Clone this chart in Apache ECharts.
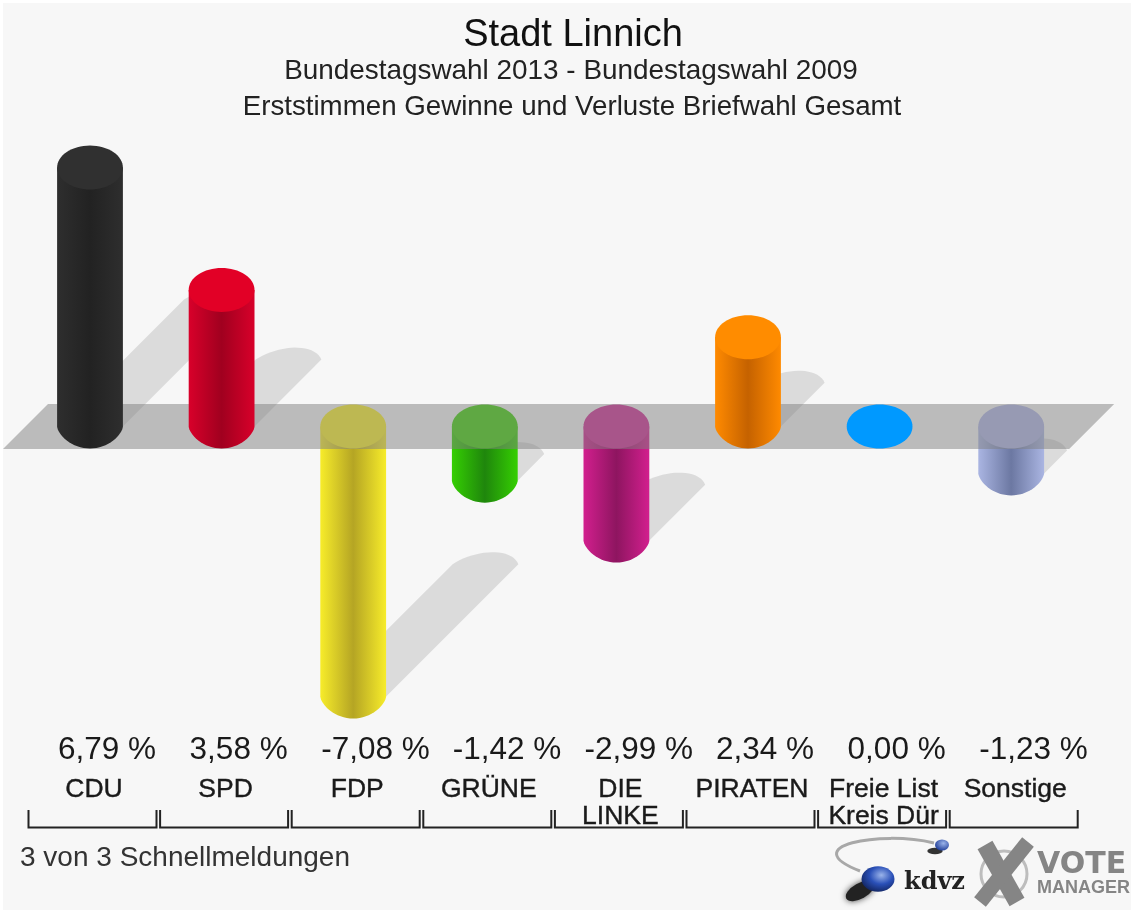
<!DOCTYPE html>
<html lang="de">
<head>
    <meta charset="UTF-8"/>
    <title>Stadt Linnich</title>
    <style>
        * {
            padding: 0;
            margin: 0;
        }

        html, body {
            width: 100%;
            height: 100%;
            overflow: hidden;
            background: #fff;
        }

        #chart {
            width: 1131px;
            height: 910px;
        }
    </style>
    <script src="https://cdn.jsdelivr.net/npm/echarts@6/dist/echarts.min.js"></script>
</head>
<body>
<div id="chart"></div>
<script>
    const parties = ["CDU", "SPD", "FDP", "GRÜNE", "DIE\nLINKE", "PIRATEN", "Freie List\nKreis Dür", "Sonstige"];
    const changes = [6.79, 3.58, -7.08, -1.42, -2.99, 2.34, 0.00, -1.23];
    const sideLight = ["#2e2e2e", "#d8002a", "#f7ec2a", "#35cf02", "#d21f8e", "#ff8a00", "#0099ff", "#aab5e2"];
    const sideDark = ["#222222", "#a0001f", "#b5a524", "#1f860c", "#8e1560", "#c56200", "#0099ff", "#6c78a2"];
    const capColor = ["#303030", "#e20026", "#fbf024", "#3ed006", "#d02a94", "#ff8c00", "#0099ff", "#aeb4e6"];

    const FONT = "Liberation Sans";
    const CAP_RY = 22;

    const chart = echarts.init(document.getElementById("chart"));

    function ellipsePoints(cx, cy, rx, ry) {
        const pts = [];
        for (let i = 0; i < 64; i++) {
            const t = Math.PI * 2 * i / 64;
            pts.push([cx + rx * Math.cos(t), cy + ry * Math.sin(t)]);
        }
        return pts;
    }

    // bottom end of a bar, a little more pointed than a true ellipse
    function bottomPoints(cx, cy, rx, ry) {
        const pts = [];
        for (let i = 0; i <= 32; i++) {
            const t = Math.PI * i / 32;
            pts.push([cx - rx * Math.cos(t), cy + ry * Math.pow(Math.sin(t), 1.3)]);
        }
        return pts;
    }

    function bezierPoints(p0, p1, p2, p3) {
        const pts = [];
        for (let i = 0; i <= 20; i++) {
            const t = i / 20, u = 1 - t;
            pts.push([
                u * u * u * p0[0] + 3 * u * u * t * p1[0] + 3 * u * t * t * p2[0] + t * t * t * p3[0],
                u * u * u * p0[1] + 3 * u * u * t * p1[1] + 3 * u * t * t * p2[1] + t * t * t * p3[1]
            ]);
        }
        return pts;
    }

    function renderBars(negative) {
        return function (params, api) {
            const v = api.value(1);
            if ((v < 0) !== negative) return null;
            const i = api.value(0);
            const rx = api.size([1, 0])[0] * 0.25;
            const zero = api.coord([i, 0]);
            const end = api.coord([i, v]);
            const top = Math.min(zero[1], end[1]);
            const bottom = Math.max(zero[1], end[1]);
            const cx = zero[0];
            const children = [];
            if (v !== 0) {
                children.push({
                    type: "polygon",
                    shape: {points: [[cx - rx, top]].concat(bottomPoints(cx, bottom, rx, CAP_RY)).concat([[cx + rx, top]])},
                    style: {
                        fill: {
                            type: "linear", x: 0, y: 0, x2: 1, y2: 0,
                            colorStops: [
                                {offset: 0, color: sideLight[i]},
                                {offset: 0.5, color: sideDark[i]},
                                {offset: 1, color: sideLight[i]}
                            ]
                        }
                    }
                });
            }
            children.push({
                type: "polygon",
                shape: {points: ellipsePoints(cx, top, rx, CAP_RY)},
                style: {fill: capColor[i]}
            });
            return {type: "group", children: children};
        };
    }

    function renderShadow(params, api) {
        const v = api.value(1);
        if (v === 0) return null;
        const i = api.value(0);
        const rx = api.size([1, 0])[0] * 0.25;
        const zero = api.coord([i, 0]);
        const end = api.coord([i, v]);
        const h = Math.abs(end[1] - zero[1]);
        const startY = Math.max(zero[1], end[1]);
        const ex = zero[0] + h * 0.49;
        const ey = startY - h * 0.49;
        const cap = bezierPoints([ex - rx, ey], [ex - 10, ey - 15], [ex + 26, ey - 17], [ex + rx, ey]);
        return {
            type: "polygon",
            shape: {points: [[zero[0] - rx, startY]].concat(cap).concat([[zero[0] + rx, startY]])},
            style: {fill: "rgba(0,0,0,0.11)"}
        };
    }

    function renderBand(params, api) {
        if (api.value(0) !== 0) return null;
        const first = api.coord([0, 0]);
        const last = api.coord([parties.length - 1, 0]);
        return {
            type: "polygon",
            shape: {
                points: [
                    [first[0] - 87, first[1] + 22.5],
                    [first[0] - 42, first[1] - 22.5],
                    [last[0] + 103, first[1] - 22.5],
                    [last[0] + 58, first[1] + 22.5]
                ]
            },
            style: {fill: "rgba(128,128,128,0.5)"}
        };
    }

    function renderLabels(params, api) {
        const i = api.value(0);
        const v = api.value(1);
        const cx = api.coord([i, 0])[0];
        const label = v.toFixed(2).replace(".", ",") + " %";
        return {
            type: "group",
            children: [
                {
                    type: "polyline",
                    shape: {points: [[cx - 61.5, 810], [cx - 61.5, 827.5], [cx + 66.5, 827.5], [cx + 66.5, 810]]},
                    style: {stroke: "#222", lineWidth: 2, fill: null}
                },
                {
                    type: "text",
                    style: {
                        text: label, x: cx - 32, y: 750, align: "left", verticalAlign: "middle",
                        fill: "#1a1a1a", font: "31.5px '" + FONT + "'"
                    }
                },
                {
                    type: "text",
                    style: {
                        text: parties[i], x: cx + 4, y: 776, align: "center", verticalAlign: "top",
                        fill: "#1a1a1a", font: "26.5px '" + FONT + "'", lineHeight: 27,
                        stroke: "#1a1a1a", lineWidth: 0.4
                    }
                }
            ]
        };
    }

    const points = changes.map((v, i) => [i, v]);

    function customSeries(renderItem, z) {
        return {type: "custom", data: points, renderItem: renderItem, z: z, silent: true, clip: false, encode: {x: 0, y: 1}};
    }

    chart.setOption({
        animation: false,
        title: [
            {text: "Stadt Linnich", left: 568, top: 12, textAlign: "center", textStyle: {fontFamily: FONT, fontSize: 38, fontWeight: "normal", color: "#111"}},
            {text: "Bundestagswahl 2013 - Bundestagswahl 2009", left: 566, top: 52, textAlign: "center", textStyle: {fontFamily: FONT, fontSize: 27.9, fontWeight: "normal", color: "#222"}},
            {text: "Erststimmen Gewinne und Verluste Briefwahl Gesamt", left: 567, top: 88, textAlign: "center", textStyle: {fontFamily: FONT, fontSize: 27.7, fontWeight: "normal", color: "#222"}},
            {text: "3 von 3 Schnellmeldungen", left: 15, top: 839, textStyle: {fontFamily: FONT, fontSize: 28, fontWeight: "normal", color: "#333"}}
        ],
        grid: {left: 24.2, top: 121.4, width: 1052.8, height: 610.2},
        xAxis: {type: "category", data: parties, show: false},
        yAxis: {type: "value", min: -8, max: 8, show: false},
        series: [
            customSeries(renderShadow, 1),
            customSeries(renderBars(true), 2),
            customSeries(renderBand, 3),
            customSeries(renderBars(false), 4),
            customSeries(renderLabels, 5)
        ],
        graphic: [
            {type: "rect", z: -10, shape: {x: 3, y: 3, width: 1128, height: 907}, style: {fill: "#f7f7f7"}},
            // kdvz logo
            {type: "bezierCurve", z: 1, shape: {x1: 934, y1: 843, cpx1: 880, cpy1: 830, cpx2: 795, cpy2: 846, x2: 860, y2: 871}, style: {stroke: "#a8a8a8", lineWidth: 3, fill: null}},
            {type: "circle", z: 1, x: 860, y: 891, rotation: 0.5, scaleX: 1.2, scaleY: 0.6, shape: {cx: 0, cy: 0, r: 13}, style: {fill: "#222", shadowBlur: 6, shadowColor: "#444"}},
            {type: "circle", z: 1, x: 878, y: 879, scaleX: 1.1, scaleY: 0.85, shape: {cx: 0, cy: 0, r: 15}, style: {fill: {type: "radial", x: 0.6, y: 0.35, r: 0.7, colorStops: [{offset: 0, color: "#9bb4ea"}, {offset: 0.5, color: "#2a50b8"}, {offset: 1, color: "#12245e"}]}}},
            {type: "circle", z: 1, x: 935, y: 851, scaleX: 1.1, scaleY: 0.45, shape: {cx: 0, cy: 0, r: 7}, style: {fill: "#333"}},
            {type: "circle", z: 1, x: 942, y: 845, scaleX: 1, scaleY: 0.8, shape: {cx: 0, cy: 0, r: 7}, style: {fill: {type: "radial", x: 0.6, y: 0.35, r: 0.7, colorStops: [{offset: 0, color: "#9bb4ea"}, {offset: 1, color: "#1c3a96"}]}}},
            {type: "text", z: 1, x: 904, y: 871, style: {text: "kdvz", font: "bold 24px 'DejaVu Serif'", fill: "#222"}},
            // vote manager logo
            {type: "circle", z: 1, shape: {cx: 1004, cy: 874, r: 23}, style: {fill: null, stroke: "#bdbdbd", lineWidth: 3}},
            {type: "line", z: 1, shape: {x1: 985, y1: 845, x2: 1017, y2: 902}, style: {stroke: "#858585", lineWidth: 17}},
            {type: "line", z: 1, shape: {x1: 1028, y1: 842, x2: 980, y2: 902}, style: {stroke: "#858585", lineWidth: 15}},
            {type: "text", z: 1, x: 1037, y: 850, style: {text: "VOTE", font: "bold 30px 'DejaVu Sans'", fill: "#858585"}},
            {type: "text", z: 1, x: 1037, y: 879, style: {text: "MANAGER", font: "bold 18px '" + FONT + "'", fill: "#858585"}}
        ]
    });
</script>
</body>
</html>
